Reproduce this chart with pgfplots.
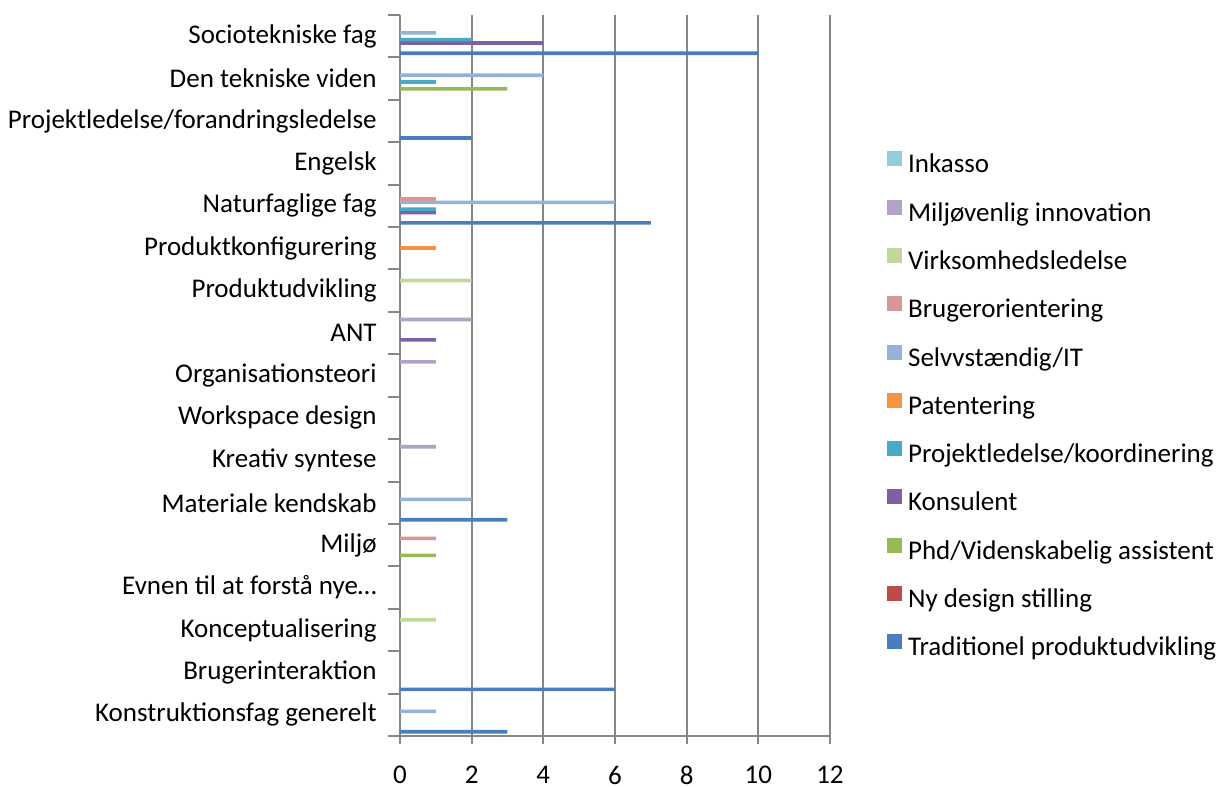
\documentclass[border=0pt]{standalone}
\usepackage{pgfplots}
\pgfplotsset{compat=1.18}
\usepackage{fontspec}
\setmainfont{Carlito}
\definecolor{ctrad}{HTML}{4A7EBB}
\definecolor{cny}{HTML}{BE4B48}
\definecolor{cphd}{HTML}{98B954}
\definecolor{ckons}{HTML}{7D60A0}
\definecolor{cproj}{HTML}{46AAC5}
\definecolor{cpat}{HTML}{F69240}
\definecolor{cselv}{HTML}{95B3D7}
\definecolor{cbru}{HTML}{D99694}
\definecolor{cvirk}{HTML}{C3D69B}
\definecolor{cmilj}{HTML}{B3A2C7}
\definecolor{cink}{HTML}{93CDDD}
\definecolor{cgrid}{HTML}{868686}
\pgfplotsset{
  mylegend/.style={legend image code/.code={\fill[##1] (0pt,0pt) rectangle (7.5pt,7.5pt);}},
  mybar/.style={xbar, bar width=1.8pt, draw=none, mylegend},
}
\newcommand{\lbl}{\fontsize{13.5}{16}\selectfont}
\begin{document}
\lbl
\begin{tikzpicture}
\path[use as bounding box] (-200pt,-25.5pt) rectangle (408.5pt,368pt);
\begin{axis}[
  at={(0,0)}, anchor=south west,
  scale only axis, width=215pt, height=360.5pt,
  xmin=0, xmax=12, ymin=-0.5, ymax=16.5,
  axis x line*=bottom, axis y line*=left,
  axis line style={draw=cgrid, line width=1pt, -},
  xtick={0,2,...,12},
  xmajorgrids, grid style={draw=cgrid, line width=1pt},
  tick align=outside,
  major tick length=4pt,
  x tick style={draw=cgrid, line width=1pt},
  major y tick style={draw=none},
  minor ytick={-0.5,0.5,...,16.5},
  minor tick length=6pt,
  minor y tick style={draw=cgrid, line width=1pt},
  ytick={0,...,16},
  yticklabels={Konstruktionsfag generelt, Brugerinteraktion, Konceptualisering, Evnen til at forstå nye…, Miljø, Materiale kendskab, Kreativ syntese, Workspace design, Organisationsteori, ANT, Produktudvikling, Produktkonfigurering, Naturfaglige fag, Engelsk, Projektledelse/forandringsledelse, Den tekniske viden, Sociotekniske fag},
  every tick label/.append style={font=\lbl},
  /pgf/number format/assume math mode=true,
  yticklabel style={inner sep=0pt, xshift=-7.5pt},
  xticklabel style={inner sep=0pt, yshift=-10.75pt},
  legend style={draw=none, fill=none, at={(1.1319,0.8114)}, anchor=north west,
    inner sep=0pt, row sep=10.4pt, column sep=3pt, font=\lbl,
    nodes={inner sep=0pt, text height=9.5pt, text depth=3pt}},
  legend cell align=left,
  reverse legend,
]
\addplot[mybar, bar shift=-8.5pt, fill=ctrad] coordinates {(10,16) (2,14) (7,12) (3,5) (6,1) (3,0)};
\addlegendentry{Traditionel produktudvikling}
\addlegendimage{mylegend, fill=cny, draw=none}
\addlegendentry{Ny design stilling}
\addplot[mybar, bar shift=-5.1pt, fill=cphd] coordinates {(3,15) (1,4)};
\addlegendentry{Phd/Videnskabelig assistent}
\addplot[mybar, bar shift=-3.4pt, fill=ckons] coordinates {(4,16) (1,12) (1,9)};
\addlegendentry{Konsulent}
\addplot[mybar, bar shift=-1.7pt, fill=cproj] coordinates {(2,16) (1,15) (1,12)};
\addlegendentry{Projektledelse/koordinering}
\addplot[mybar, bar shift=0pt, fill=cpat] coordinates {(1,11)};
\addlegendentry{Patentering}
\addplot[mybar, bar shift=1.7pt, fill=cselv] coordinates {(1,16) (4,15) (6,12) (2,5) (1,0)};
\addlegendentry{Selvvstændig/IT}
\addplot[mybar, bar shift=3.4pt, fill=cbru] coordinates {(1,12) (1,4)};
\addlegendentry{Brugerorientering}
\addplot[mybar, bar shift=5.1pt, fill=cvirk] coordinates {(2,10) (1,2)};
\addlegendentry{Virksomhedsledelse}
\addplot[mybar, bar shift=6.8pt, fill=cmilj] coordinates {(2,9) (1,8) (1,6)};
\addlegendentry{Miljøvenlig innovation}
\addlegendimage{mylegend, fill=cink, draw=none}
\addlegendentry{Inkasso}
\end{axis}
\end{tikzpicture}
\end{document}
